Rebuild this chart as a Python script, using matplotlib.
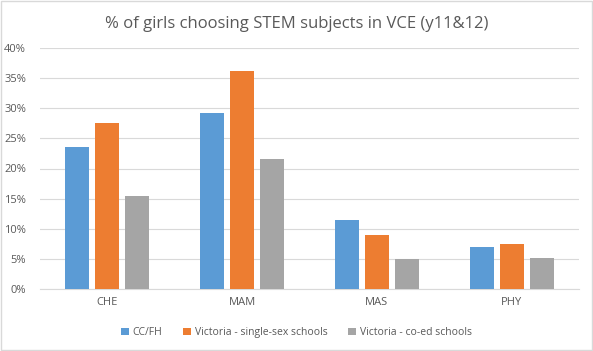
import numpy as np
import matplotlib.pyplot as plt
from matplotlib.ticker import PercentFormatter

plt.rcParams['font.family'] = ['Open Sans', 'DejaVu Sans']

subjects = ['CHE', 'MAM', 'MAS', 'PHY']
series_names = ['CC/FH', 'Victoria - single-sex schools', 'Victoria - co-ed schools']
cc_fh = [23.5, 29.2, 11.5, 7.0]
vic_single = [27.5, 36.2, 8.9, 7.5]
vic_coed = [15.4, 21.5, 4.9, 5.2]
colors = ['#5B9BD5', '#ED7D31', '#A5A5A5']

fig = plt.figure(figsize=(5.93, 3.51), dpi=100)
ax = fig.add_axes([40 / 593, 62 / 351, 539 / 593, 241 / 351])

x = np.arange(len(subjects))
width = 0.178
step = 0.223
for i, (vals, name, col) in enumerate(zip([cc_fh, vic_single, vic_coed], series_names, colors)):
    ax.bar(x + (i - 1) * step, vals, width, color=col, label=name, zorder=3)

ax.set_xlim(-0.5, 3.5)
ax.set_ylim(0, 40)
ax.set_yticks(np.arange(0, 41, 5))
ax.yaxis.set_major_formatter(PercentFormatter(decimals=0))
ax.set_xticks(x)
ax.set_xticklabels(subjects)
ax.grid(axis='y', color='#D9D9D9', linewidth=0.8, zorder=0)
for s in ['top', 'right', 'left']:
    ax.spines[s].set_visible(False)
ax.spines['bottom'].set_color('#D9D9D9')
ax.tick_params(axis='both', length=0, colors='#595959', labelsize=8)
ax.tick_params(axis='y', pad=10)
ax.tick_params(axis='x', pad=6)

fig.suptitle('% of girls choosing STEM subjects in VCE (y11&12)', y=0.955,
             fontsize=12, color='#595959')
fig.legend(loc='lower center', ncol=3, bbox_to_anchor=(0.5, 0.01), frameon=False,
           fontsize=7.5, labelcolor='#595959', handlelength=0.7, handleheight=0.7,
           handletextpad=0.4, columnspacing=2.0)

fig.patches.append(plt.Rectangle((0.001, 0.002), 0.997, 0.995, transform=fig.transFigure,
                                 fill=False, edgecolor='#D9D9D9', linewidth=1))

fig.savefig('out.png', dpi=100)
